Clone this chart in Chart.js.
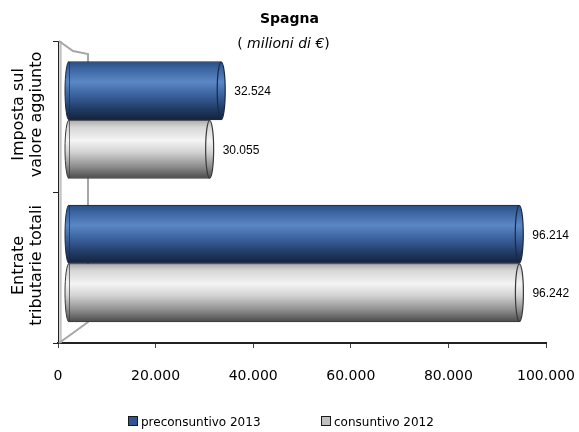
<!DOCTYPE html>
<html>
<head>
<meta charset="utf-8">
<script src="https://cdn.jsdelivr.net/npm/chart.js@4"></script>
<style>
  body { margin: 0; background: #fff; }
  #wrap { position: relative; width: 579px; height: 432px; font-family: 'DejaVu Sans', sans-serif; color: #000; }
  canvas { position: absolute; left: 0; top: 0; }
  .ttl { position: absolute; left: 0; width: 579px; text-align: center; white-space: nowrap; }
  .leg { position: absolute; top: 414px; font-size: 12px; line-height: 16px; white-space: nowrap; }
  .leg i { display: inline-block; width: 8px; height: 8px; border: 1px solid #1a1a1a; margin-right: 3px; vertical-align: -0px; }
</style>
</head>
<body>
<div id="wrap">
  <canvas id="c" width="579" height="432"></canvas>
  <div class="ttl" style="top:9px;font-weight:bold;font-size:14px;line-height:18px;">Spagna</div>
  <div class="ttl" style="top:34px;left:-6px;font-size:14px;line-height:18px;">( <span style="font-style:italic">milioni di €</span>)</div>
  <div id="legend"></div>
</div>
<script>
// ---- data ----
const categories = [['Imposta sul', 'valore aggiunto'], ['Entrate', 'tributarie totali']];
const seriesNames = ['preconsuntivo 2013', 'consuntivo 2012'];
const preconsuntivo2013 = [32524, 96214];
const consuntivo2012 = [30055, 96242];
const xTickValues = [0, 20000, 40000, 60000, 80000, 100000];
const xTickLabels = ['0', '20.000', '40.000', '60.000', '80.000', '100.000'];
const valueLabels = [['32.524', '96.214'], ['30.055', '96.242']];

// ---- styles ----
const blueStops = [[0, '#2b4c80'], [0.12, '#3a64a0'], [0.35, '#5b87c6'], [0.55, '#3d66a2'], [0.8, '#223d68'], [1, '#14223b']];
const greyStops = [[0, '#a9a9a9'], [0.12, '#d6d6d6'], [0.35, '#f4f4f4'], [0.55, '#d2d2d2'], [0.8, '#8c8c8c'], [1, '#4a4a4a']];
const outlines = ['#1a2a45', '#3a3a3a'];
const legendFills = ['#2f5597', '#c0c0c0'];

function makeGrad(ctx, top, bottom, stops) {
  const g = ctx.createLinearGradient(0, top, 0, bottom);
  stops.forEach(s => g.addColorStop(s[0], s[1]));
  return g;
}
function barFill(stops, flat) {
  return (c) => {
    const el = c.element;
    if (!el || !isFinite(el.y) || !isFinite(el.height)) return flat;
    return makeGrad(c.chart.ctx, el.y - el.height / 2, el.y + el.height / 2, stops);
  };
}

const wallPlugin = {
  id: 'wall',
  beforeDatasetsDraw(chart) {
    const { ctx } = chart;
    const { left, top, bottom } = chart.chartArea;
    const back = left + 30;
    ctx.save();
    ctx.strokeStyle = '#c4c4c4';
    ctx.lineWidth = 2.5;
    ctx.beginPath(); ctx.moveTo(left + 2.5, top); ctx.lineTo(left + 2.5, bottom); ctx.stroke();
    ctx.strokeStyle = '#a6a6a6';
    ctx.lineWidth = 2;
    ctx.beginPath();
    ctx.moveTo(left + 1, top); ctx.lineTo(left + 15, top + 10); ctx.lineTo(back, top + 13);
    ctx.lineTo(back, bottom - 21);
    ctx.lineTo(left + 15, bottom - 10); ctx.lineTo(left + 1, bottom);
    ctx.stroke();
    ctx.restore();
  }
};

const capsPlugin = {
  id: 'caps',
  afterDatasetsDraw(chart) {
    const { ctx } = chart;
    chart.data.datasets.forEach((ds, di) => {
      const meta = chart.getDatasetMeta(di);
      meta.data.forEach((el, i) => {
        const h = el.height, rx = 4;
        const fill = el.options.backgroundColor;
        ctx.save();
        // left rounded end
        ctx.beginPath();
        ctx.ellipse(el.base, el.y, rx, h / 2, 0, Math.PI / 2, Math.PI * 1.5);
        ctx.closePath();
        ctx.fillStyle = fill; ctx.fill();
        ctx.beginPath();
        ctx.ellipse(el.base, el.y, rx, h / 2, 0, Math.PI / 2, Math.PI * 1.5);
        ctx.strokeStyle = outlines[di]; ctx.lineWidth = 1; ctx.stroke();
        // right cap
        ctx.beginPath();
        ctx.ellipse(el.x, el.y, rx, h / 2 - 0.5, 0, 0, Math.PI * 2);
        ctx.fillStyle = fill; ctx.fill();
        ctx.strokeStyle = outlines[di]; ctx.lineWidth = 1.2; ctx.stroke();
        // value label
        ctx.fillStyle = '#000';
        ctx.font = "12px 'Liberation Sans', Arial, sans-serif";
        ctx.textAlign = 'left';
        ctx.textBaseline = 'middle';
        ctx.fillText(valueLabels[di][i], el.x + 13, el.y + 1);
        ctx.restore();
      });
    });
  }
};

const catLabelPlugin = {
  id: 'catLabels',
  afterDraw(chart) {
    const { ctx } = chart;
    const ys = chart.scales.y;
    const left = chart.chartArea.left;
    ctx.save();
    ctx.fillStyle = '#000';
    ctx.font = "16px 'DejaVu Sans', sans-serif";
    ctx.textAlign = 'center';
    ctx.textBaseline = 'alphabetic';
    categories.forEach((lines, i) => {
      const yPix = ys.getPixelForTick(i);
      ctx.save();
      ctx.translate(left - 35, yPix - 2);
      ctx.rotate(-Math.PI / 2);
      lines.forEach((ln, k) => ctx.fillText(ln, 0, k * 18));
      ctx.restore();
    });
    ctx.restore();
  }
};

Chart.defaults.font.family = "'DejaVu Sans', sans-serif";
Chart.defaults.color = '#000';

const chart = new Chart(document.getElementById('c'), {
  type: 'bar',
  data: {
    labels: categories,
    datasets: [
      {
        label: seriesNames[0],
        data: preconsuntivo2013.map((v, i) => ({ x: v, y: i })),
        xAxisID: 'xb', yAxisID: 'yb',
        backgroundColor: barFill(blueStops, '#3d66a2'),
        borderColor: outlines[0], borderWidth: 1, borderSkipped: false,
        barThickness: 58.5
      },
      {
        label: seriesNames[1],
        data: consuntivo2012.map((v, i) => ({ x: v, y: i })),
        xAxisID: 'xb', yAxisID: 'yb',
        backgroundColor: barFill(greyStops, '#d2d2d2'),
        borderColor: outlines[1], borderWidth: 1, borderSkipped: false,
        barThickness: 58.5
      }
    ]
  },
  options: {
    indexAxis: 'y',
    responsive: false,
    animation: false,
    events: [],
    layout: { padding: { top: 41, right: 33, bottom: 0, left: 0 } },
    plugins: { legend: { display: false }, tooltip: { enabled: false }, title: { display: false } },
    scales: {
      x: {
        type: 'linear', position: 'bottom', min: 0, max: 100000,
        afterBuildTicks: (s) => { s.ticks = xTickValues.map(v => ({ value: v })); },
        ticks: { callback: (v, i) => xTickLabels[i], font: { size: 14 }, padding: 20, maxRotation: 0, color: '#000' },
        grid: { drawOnChartArea: false, tickLength: 5, color: '#444' },
        border: { display: true, color: '#222', width: 2 },
        afterFit: (s) => { s.height = 89; s.paddingLeft = 0; s.paddingRight = 0; }
      },
      y: {
        type: 'category', position: 'left', offset: true,
        ticks: { display: false },
        grid: { offset: true, drawOnChartArea: false, tickLength: 5, color: '#222' },
        border: { display: true, color: '#222', width: 1 },
        afterFit: (s) => { s.width = 58; s.paddingTop = 0; s.paddingBottom = 0; }
      },
      xb: { type: 'linear', display: false, axis: 'x', offset: false, min: -2350, max: 101924 },
      yb: { type: 'linear', display: false, axis: 'y', offset: false, reverse: true, min: -0.5505, max: 1.554 }
    }
  },
  plugins: [wallPlugin, capsPlugin, catLabelPlugin]
});
chart.update('none');

// ---- legend (HTML text) ----
const legend = document.getElementById('legend');
const legendLeft = [128, 321];
seriesNames.forEach((name, i) => {
  const d = document.createElement('div');
  d.className = 'leg';
  d.style.left = legendLeft[i] + 'px';
  d.innerHTML = '<i style="background:' + legendFills[i] + '"></i>' + name;
  legend.appendChild(d);
});
</script>
</body>
</html>
